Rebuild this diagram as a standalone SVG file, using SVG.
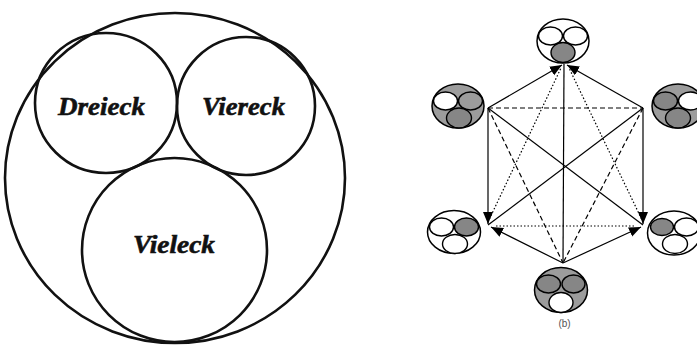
<svg xmlns="http://www.w3.org/2000/svg" width="697" height="346" viewBox="0 0 697 346">
<defs>
<style>
.big{fill:none;stroke:#111;stroke-width:2.6}
.lbl{font-family:"Liberation Serif",serif;font-weight:bold;font-style:italic;font-size:26px;fill:#111;stroke:#111;stroke-width:0.6}
.o{stroke:#000;stroke-width:1.5}
.i{stroke:#000;stroke-width:1.4}
.w{fill:#fff}
.g{fill:#9c9c9c}
.d{fill:#868686}
.ln{stroke:#000;stroke-width:1.2;fill:none}
.dash{stroke-dasharray:5,3}
.dot{stroke-dasharray:1.5,2}
.cap{font-family:"Liberation Sans",sans-serif;font-size:10px;fill:#555}
</style>
<marker id="ah" markerUnits="userSpaceOnUse" markerWidth="13" markerHeight="11" refX="12" refY="5" orient="auto">
<path d="M0,0 L12,5 L0,10 z" fill="#000"/>
</marker>
</defs>
<rect width="697" height="346" fill="#fff"/>

<g id="outer-circle"><ellipse class="big" cx="175" cy="178" rx="170" ry="165"/></g>
<g id="dreieck"><ellipse class="big" cx="106" cy="103" rx="71" ry="70"/><text class="lbl" x="58" y="115" textLength="87" lengthAdjust="spacingAndGlyphs">Dreieck</text></g>
<g id="viereck"><ellipse class="big" cx="246" cy="106" rx="69" ry="69"/><text class="lbl" x="202" y="115" textLength="83" lengthAdjust="spacingAndGlyphs">Viereck</text></g>
<g id="vieleck"><ellipse class="big" cx="174.5" cy="250" rx="92.5" ry="92"/><text class="lbl" x="133" y="253" textLength="82" lengthAdjust="spacingAndGlyphs">Vieleck</text></g>

<g id="connectors">
<line class="ln" x1="488" y1="108" x2="562" y2="65" marker-end="url(#ah)"/>
<line class="ln" x1="643" y1="108" x2="567" y2="65" marker-end="url(#ah)"/>
<line class="ln" x1="488" y1="108" x2="488" y2="224" marker-end="url(#ah)"/>
<line class="ln" x1="643" y1="108" x2="643" y2="224" marker-end="url(#ah)"/>
<line class="ln" x1="563" y1="263" x2="491" y2="227" marker-end="url(#ah)"/>
<line class="ln" x1="563" y1="263" x2="641" y2="227" marker-end="url(#ah)"/>
<line class="ln" x1="564" y1="64" x2="563" y2="263"/>
<line class="ln" x1="488" y1="108" x2="643" y2="225"/>
<line class="ln" x1="643" y1="108" x2="488" y2="225"/>
<line class="ln dash" x1="488" y1="108" x2="643" y2="108"/>
<line class="ln dash" x1="488" y1="108" x2="563" y2="263"/>
<line class="ln dash" x1="643" y1="108" x2="563" y2="263"/>
<line class="ln dot" x1="488" y1="222" x2="561" y2="68"/>
<line class="ln dot" x1="643" y1="222" x2="569" y2="68"/>
<line class="ln dot" x1="496" y1="226" x2="634" y2="226"/>
</g>

<g id="node-top" transform="translate(563,41)">
<ellipse class="o w" rx="26" ry="22"/>
<ellipse class="i w" cx="-12.5" cy="-5" rx="12" ry="9"/>
<ellipse class="i w" cx="12.5" cy="-5" rx="12" ry="9"/>
<ellipse class="i d" cx="0" cy="11.5" rx="12" ry="10"/>
</g>
<g id="node-upper-left" transform="translate(458,106)">
<ellipse class="o g" rx="26" ry="22"/>
<ellipse class="i w" cx="-12.5" cy="-5" rx="12" ry="9"/>
<ellipse class="i g" cx="12.5" cy="-5" rx="12" ry="9"/>
<ellipse class="i d" cx="1" cy="12" rx="12.5" ry="10"/>
</g>
<g id="node-upper-right" transform="translate(678,106)">
<ellipse class="o g" rx="26" ry="22"/>
<ellipse class="i d" cx="-12.5" cy="-5" rx="12" ry="9"/>
<ellipse class="i w" cx="12.5" cy="-5" rx="12" ry="9"/>
<ellipse class="i d" cx="0" cy="12" rx="12.5" ry="10"/>
</g>
<g id="node-lower-left" transform="translate(454,232)">
<ellipse class="o w" rx="26.5" ry="21.5"/>
<ellipse class="i w" cx="-12.5" cy="-5" rx="12" ry="9"/>
<ellipse class="i d" cx="12.5" cy="-5" rx="12" ry="9"/>
<ellipse class="i w" cx="1" cy="12" rx="12.5" ry="9.5"/>
</g>
<g id="node-lower-right" transform="translate(674,233)">
<ellipse class="o w" rx="26.5" ry="22"/>
<ellipse class="i d" cx="-12" cy="-6" rx="11.5" ry="8.5"/>
<ellipse class="i w" cx="12.5" cy="-6" rx="12" ry="9"/>
<ellipse class="i w" cx="1" cy="11" rx="12.5" ry="9.5"/>
</g>
<g id="node-bottom" transform="translate(561,290)">
<ellipse class="o g" rx="26.5" ry="22.5"/>
<ellipse class="i d" cx="-12.5" cy="-6" rx="12" ry="9"/>
<ellipse class="i d" cx="12.5" cy="-6" rx="11.5" ry="9"/>
<ellipse class="i w" cx="0" cy="12.5" rx="12" ry="10"/>
</g>
<text class="cap" x="564.5" y="327" text-anchor="middle">(b)</text>
</svg>
